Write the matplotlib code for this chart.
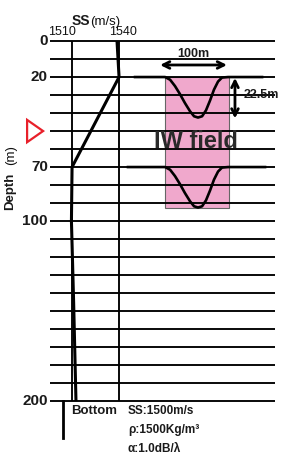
import numpy as np
import matplotlib.pyplot as plt
from matplotlib.patches import Rectangle, Polygon

plt.rcParams['font.family'] = ['Liberation Sans', 'DejaVu Sans']

# sound speed profile
ss_depth = [0, 20, 70, 100, 145, 200]
ss_speed = [1538.7, 1540, 1510, 1509.6, 1511, 1512.5]

depth_ticks = [0, 20, 70, 100, 200]
speed_ticks = [1510, 1540]
grid_depths = np.arange(0, 201, 10)

# internal wave displacement
iw_x = [1569.4, 1572.6, 1575.7, 1578.9, 1582.1, 1585.3, 1587.9, 1590.4,
        1593.0, 1595.5, 1598.1, 1600.6, 1603.2, 1605.7, 1609.6]
iw_dz = [0, 1.5, 5, 9.5, 14.5, 19, 21.8, 22.5, 21.8, 18.5, 13, 7, 2.5, 0.3, 0]
iw_depths = [20, 70]
iw_amp = 22.5
source_depth = 50

bottom_lines = ["SS:1500m/s", "ρ:1500Kg/m³", "α:1.0dB/λ"]

fig = plt.figure(figsize=(2.84, 4.61), dpi=100)
ax = fig.add_axes([0, 0, 1, 1])
ax.set_xlim(1464.0, 1645.3)
ax.set_ylim(233.3, -22.8)
ax.axis('off')

# IW field box
ax.add_patch(Rectangle((1569.4, 20), 1610.2 - 1569.4, 92.5 - 20,
                       facecolor='#f0a8cc', edgecolor='#666666', lw=0.8, zorder=1))

# depth grid
ax.hlines(grid_depths, 1496.0, 1639.6, color='black', lw=1.35, zorder=2)
ax.vlines(speed_ticks, 0, 200, color='black', lw=1.35, zorder=2)

# profile
ax.plot(ss_speed, ss_depth, color='black', lw=2.2, zorder=4, solid_capstyle='butt')
ax.plot([1504.3, 1504.3], [200, 220.5], color='black', lw=2, zorder=4)

# IW curves
for d0, xl, xr in zip(iw_depths, [1550.2, 1545.7], [1631.3, 1633.2]):
    xs = [xl] + iw_x + [xr]
    ys = [d0] + [d0 + dz for dz in iw_dz] + [d0]
    ax.plot(xs, ys, color='black', lw=1.9, zorder=4)

# labels
for d in depth_ticks:
    ax.text(1494.5, d, str(d), ha='right', va='center', fontsize=11,
            fontweight='bold', color='#1a1a1a')
ax.text(1503.6, -4.9, "1510", ha='center', va='center', fontsize=9, color='#111111')
ax.text(1542.6, -4.9, "1540", ha='center', va='center', fontsize=9, color='#111111')
ax.text(1521.5, -8.9, "SS", ha='right', va='baseline', fontsize=10,
        fontweight='bold', color='#1a1a1a')
ax.text(1521.5, -8.9, "(m/s)", ha='left', va='baseline', fontsize=9.5, color='#111111')
ax.text(1470.6, 83.3, "Depth", rotation=90, ha='center', va='center', fontsize=9.5,
        fontweight='bold', color='#1a1a1a')
ax.text(1471.0, 63.3, "(m)", rotation=90, ha='center', va='center', fontsize=9.5,
        color='#111111')

# source triangle
ax.add_patch(Polygon([(1481.3, source_depth - 6.2), (1481.3, source_depth + 6.2),
                      (1491.5, source_depth)], closed=True, fill=False,
                     edgecolor='#e8202a', lw=1.6, clip_on=False))

# IW annotations
ax.text(1589.1, 55.6, "IW field", ha='center', va='center', fontsize=17,
        fontweight='bold', color='#2a2a2a', zorder=5)
ax.text(1587.2, 7.4, "100m", ha='center', va='center', fontsize=9,
        fontweight='bold', color='#1a1a1a')
ax.annotate('', xy=(1566.2, 13.3), xytext=(1608.9, 13.3),
            arrowprops=dict(arrowstyle='<->', lw=2, color='black',
                            mutation_scale=12, shrinkA=0, shrinkB=0))
ax.annotate('', xy=(1614.0, 20.5), xytext=(1614.0, 43),
            arrowprops=dict(arrowstyle='<->', lw=2, color='black',
                            mutation_scale=12, shrinkA=0, shrinkB=0))
ax.text(1630.6, 30, "%.1fm" % iw_amp, ha='center', va='center', fontsize=9,
        fontweight='bold', color='#1a1a1a')

# bottom parameters
ax.text(1524.0, 205.6, "Bottom", ha='center', va='center', fontsize=9.5,
        fontweight='bold', color='#1a1a1a')
for i, s in enumerate(bottom_lines):
    ax.text(1545.7, 205.6 + 10.4 * i, s, ha='left', va='center', fontsize=8.5,
            fontweight='bold', color='#1a1a1a')

fig.savefig('out.png', dpi=100)
